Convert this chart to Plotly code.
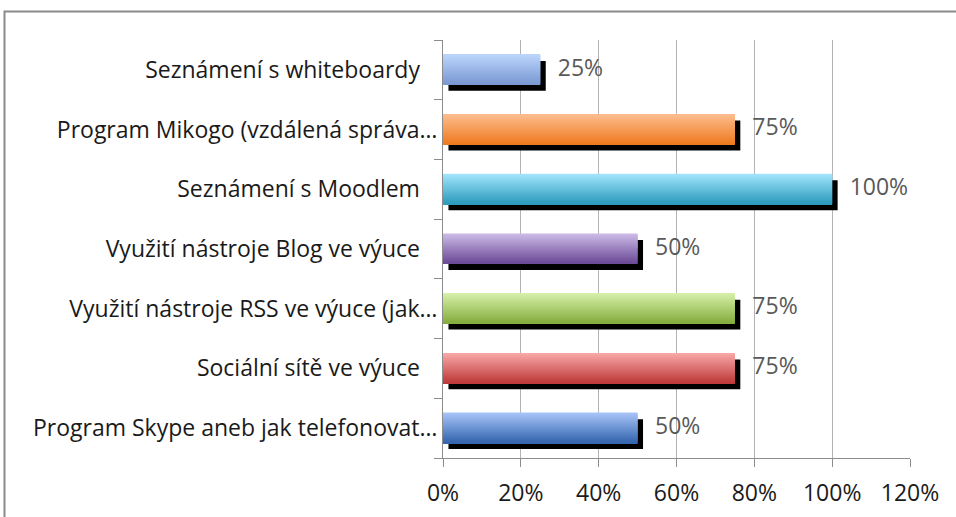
import plotly.graph_objects as go

# Data (bottom to top, as plotted on the category axis)
categories = [
    "Program Skype aneb jak telefonovat…",
    "Sociální sítě ve výuce",
    "Využití nástroje RSS ve výuce (jak…",
    "Využití nástroje Blog ve výuce",
    "Seznámení s Moodlem",
    "Program Mikogo (vzdálená správa…",
    "Seznámení s whiteboardy",
]
values = [0.50, 0.75, 0.75, 0.50, 1.00, 0.75, 0.25]
value_labels = ["50%", "75%", "75%", "50%", "100%", "75%", "25%"]
x_ticks = [0, 0.2, 0.4, 0.6, 0.8, 1.0, 1.2]
x_tick_labels = ["0%", "20%", "40%", "60%", "80%", "100%", "120%"]

# Style: gradient top (light) -> bottom (dark) for each bar
top_colors = ["#a7c4f8", "#f9a8a8", "#d6f0a8", "#cbbae6", "#a2e4fd", "#fdbc8e", "#bcd5fc"]
bottom_colors = ["#3666b0", "#bf3b3b", "#86ad3e", "#6d4c98", "#2e9cbd", "#ef7b20", "#7b9ad4"]


def hex_to_rgb(h):
    h = h.lstrip("#")
    return tuple(int(h[i:i + 2], 16) for i in (0, 2, 4))


def mix(c1, c2, t):
    a, b = hex_to_rgb(c1), hex_to_rgb(c2)
    return "rgb(%d,%d,%d)" % tuple(round(a[i] + (b[i] - a[i]) * t) for i in range(3))


W, H = 956, 517
ML, MR, MT, MB = 443, 46, 40, 59
PW, PH = W - ML - MR, H - MT - MB

FONT = "Open Sans"
FS = 23

BAR_W = 0.5
SH_X = 0.014   # shadow shift along value axis
SH_Y = 0.10    # shadow shift along category axis

fig = go.Figure()

# shadow
fig.add_trace(go.Bar(
    y=categories, x=values, base=[SH_X] * len(values), orientation="h",
    width=BAR_W, offset=-BAR_W / 2 - SH_Y,
    marker=dict(color="#000000", line=dict(width=0)),
    hoverinfo="skip", showlegend=False,
))

# gradient slices (top to bottom)
N = 30
sw = BAR_W / N
for k in range(N):
    t = k / (N - 1)  # 0 top -> 1 bottom
    off = BAR_W / 2 - (k + 1) * sw
    fig.add_trace(go.Bar(
        y=categories, x=values, orientation="h",
        width=sw * 1.6 if k < N - 1 else sw, offset=off,
        marker=dict(color=[mix(a, b, t) for a, b in zip(top_colors, bottom_colors)],
                    line=dict(width=0)),
        hoverinfo="skip", showlegend=False,
    ))

# value labels
fig.add_trace(go.Scatter(
    y=categories, x=values, mode="text",
    text=["\u2002\u00a0" + s for s in value_labels],
    textposition="middle right",
    textfont=dict(family=FONT, size=FS, color="#595959"),
    cliponaxis=False, hoverinfo="skip", showlegend=False,
))

cat_text = [c if c.endswith("…") else c + "\u00a0\u2002" for c in categories]

fig.update_layout(
    width=W, height=H,
    margin=dict(l=ML, r=MR, t=MT, b=MB, autoexpand=False),
    barmode="overlay",
    plot_bgcolor="white", paper_bgcolor="white",
    font=dict(family=FONT, size=FS, color="#1a1a1a"),
    xaxis=dict(
        range=[0, 1.2], tickvals=x_ticks, ticktext=x_tick_labels,
        showgrid=True, gridcolor="#b3b3b3", gridwidth=1,
        showline=True, linecolor="#8c8c8c", linewidth=1,
        ticks="outside", ticklen=8, tickcolor="#8c8c8c",
        zeroline=False, ticklabelstandoff=6, automargin=False,
    ),
    yaxis=dict(
        type="category", categoryorder="array", categoryarray=categories,
        tickvals=categories, ticktext=cat_text,
        range=[-0.5, len(categories) - 0.5],
        tickson="boundaries", ticks="outside", ticklen=8, tickcolor="#8c8c8c",
        showline=True, linecolor="#8c8c8c", linewidth=1,
        showgrid=False, zeroline=False, ticklabelstandoff=0, automargin=False,
    ),
    shapes=[dict(
        type="rect", xref="paper", yref="paper",
        x0=(4.5 - ML) / PW, x1=(W + 20 - ML) / PW,
        y0=-(H + 20 - MT - PH) / PH, y1=1 + (MT - 11.5) / PH,
        line=dict(color="#8a8a8a", width=2), fillcolor="rgba(0,0,0,0)", layer="below",
    )],
)

fig.write_html("out.html", config={"displayModeBar": False},
               post_script="document.body.style.margin='0px';")
